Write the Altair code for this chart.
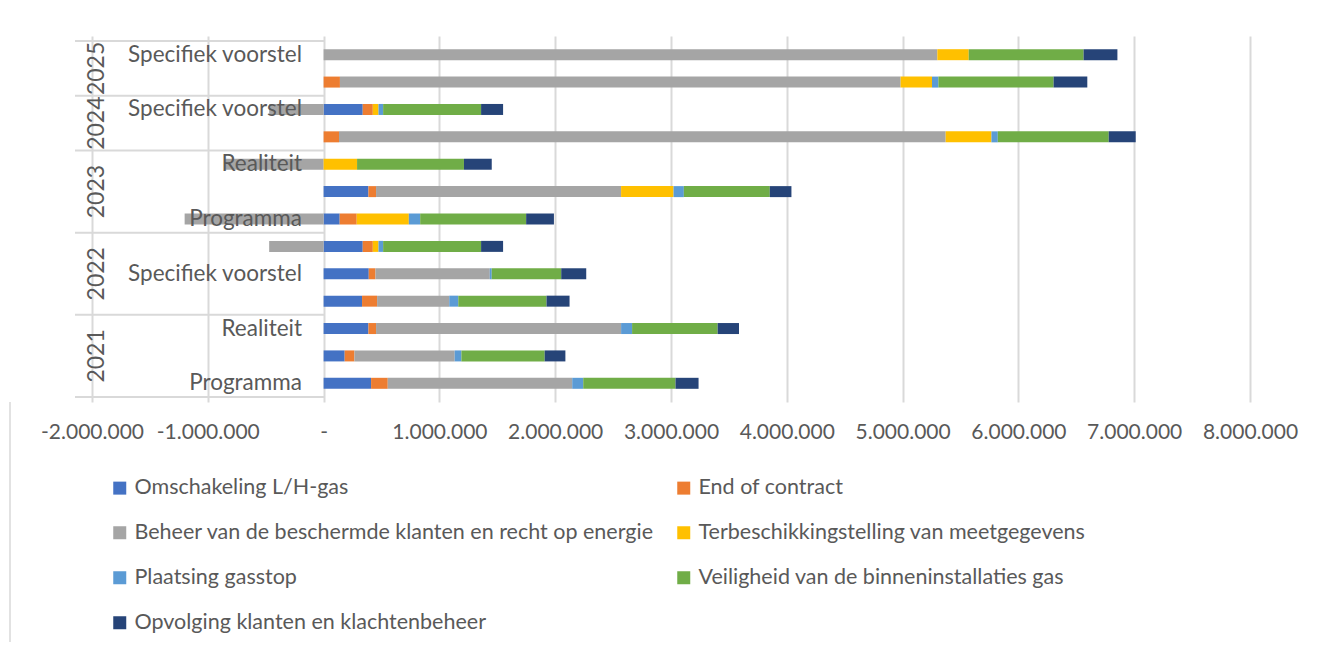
import altair as alt
import pandas as pd

# rows listed from bottom to top, as Excel draws them
years = ["2021", "2021", "2021", "2022", "2022", "2022", "2023", "2023", "2023",
         "2024", "2024", "2025", "2025"]
sub_labels = ["Programma", "", "Realiteit", "", "Specifiek voorstel", "",
              "Programma", "", "Realiteit", "", "Specifiek voorstel", "",
              "Specifiek voorstel"]

series = [
    "Omschakeling L/H-gas",
    "End of contract",
    "Beheer van de beschermde klanten en recht op energie",
    "Terbeschikkingstelling van meetgegevens",
    "Plaatsing gasstop",
    "Veiligheid van de binneninstallaties gas",
    "Opvolging klanten en klachtenbeheer",
]
colors = ["#4472C4", "#ED7D31", "#A5A5A5", "#FFC000", "#5B9BD5", "#70AD47", "#264478"]

omschakeling = [410000, 182000, 387000, 332000, 390000, 338000, 139000, 387000, 0, 0, 338000, 0, 0]
end_of_contract = [144000, 84000, 66000, 130000, 58000, 87000, 147000, 66000, 0, 133000, 87000, 141000, 0]
beheer = [1593000, 866000, 2116000, 623000, 987000, -470000, -1200000, 2116000, -850000,
          5239000, -470000, 4842000, 5300000]
meetgegevens = [0, 0, 0, 0, 0, 49000, 450000, 453000, 289000, 395000, 49000, 271000, 271000]
gasstop = [95000, 58000, 95000, 78000, 17000, 40000, 98000, 89000, 0, 55000, 40000, 55000, 0]
veiligheid = [797000, 719000, 739000, 762000, 600000, 846000, 915000, 742000, 923000,
              958000, 846000, 995000, 992000]
opvolging = [199000, 179000, 184000, 199000, 216000, 190000, 240000, 187000, 240000,
             233000, 190000, 291000, 292000]

values = [omschakeling, end_of_contract, beheer, meetgegevens, gasstop, veiligheid, opvolging]
tick_values = [-2000000, -1000000, 0, 1000000, 2000000, 3000000, 4000000,
               5000000, 6000000, 7000000, 8000000]

FONT = "Lato"
TXT = "#595959"
GRID = "#D9D9D9"

rows = []
for i in range(len(years)):
    for k, (name, vals) in enumerate(zip(series, values)):
        if vals[i] != 0:
            rows.append({"pos": i, "serie": name, "order": k, "value": vals[i]})
df = pd.DataFrame(rows)

lab_df = pd.DataFrame({"pos": list(range(len(years))), "label": sub_labels})

# year groups
groups = []
for i, y in enumerate(years):
    if not groups or groups[-1]["year"] != y:
        groups.append({"year": y, "first": i, "last": i})
    else:
        groups[-1]["last"] = i
year_df = pd.DataFrame([{"year": g["year"], "pos": (g["first"] + g["last"]) / 2} for g in groups])
bounds = [groups[0]["first"] - 0.5] + [g["last"] + 0.5 for g in groups]
bound_df = pd.DataFrame({"b": bounds})

xscale = alt.Scale(domain=[-2000000, 8000000], nice=False, zero=False)
yscale = alt.Scale(domain=[-0.5, len(years) - 0.5], nice=False, zero=False)

label_expr = ("datum.value == 0 ? '-' : (datum.value < 0 ? '-' : '') + "
              "format(abs(datum.value) / 1000000, 'd') + '.000.000'")

bars = alt.Chart(df).mark_bar(size=11, orient="horizontal").encode(
    x=alt.X("value:Q", stack="zero", scale=xscale,
            axis=alt.Axis(values=tick_values, grid=True, gridColor=GRID, gridWidth=2,
                          domain=False, ticks=False, labelPadding=19, labelFontSize=21,
                          labelFont=FONT, labelColor=TXT, title=None, labelExpr=label_expr,
                          labelFlush=False)),
    y=alt.Y("pos:Q", scale=yscale, axis=None),
    color=alt.Color("serie:N", scale=alt.Scale(domain=series, range=colors),
                    legend=alt.Legend(orient="none", legendX=17, legendY=441, columns=2,
                                      direction="horizontal",
                                      symbolType="square", symbolSize=169,
                                      symbolStrokeWidth=0, labelFontSize=21.5,
                                      labelFont=FONT, labelColor=TXT, rowPadding=22,
                                      columnPadding=19, labelOffset=4, title=None,
                                      labelLimit=800)),
    order=alt.Order("order:Q"),
)

seps = alt.Chart(bound_df).mark_rule(color=GRID, strokeWidth=2).encode(
    x=alt.value(-17), x2=alt.value(232),
    y=alt.Y("b:Q", scale=yscale, axis=None),
)

# chart-area border fragment at the left edge, below the plot
border = alt.Chart(bound_df.head(1)).mark_rule(color=GRID, strokeWidth=1.5).encode(
    x=alt.value(-82), y=alt.value(366), y2=alt.value(614),
)

sub_text = alt.Chart(lab_df).mark_text(align="right", baseline="middle", fontSize=22.5,
                                       font=FONT, color=TXT).encode(
    x=alt.value(210),
    y=alt.Y("pos:Q", scale=yscale, axis=None),
    text="label:N",
)

year_text = alt.Chart(year_df).mark_text(align="center", baseline="middle", angle=270,
                                         fontSize=23, font=FONT, color=TXT).encode(
    x=alt.value(5),
    y=alt.Y("pos:Q", scale=yscale, axis=None),
    text="year:N",
)

chart = alt.layer(seps, border, bars, sub_text, year_text).properties(
    width=1158, height=366,
    autosize=alt.AutoSizeParams(type="none"),
    padding={"left": 84, "top": 28, "right": 60, "bottom": 240},
).configure_view(stroke=None)

chart.save("out.html", embed_options={"renderer": "svg", "actions": False})
